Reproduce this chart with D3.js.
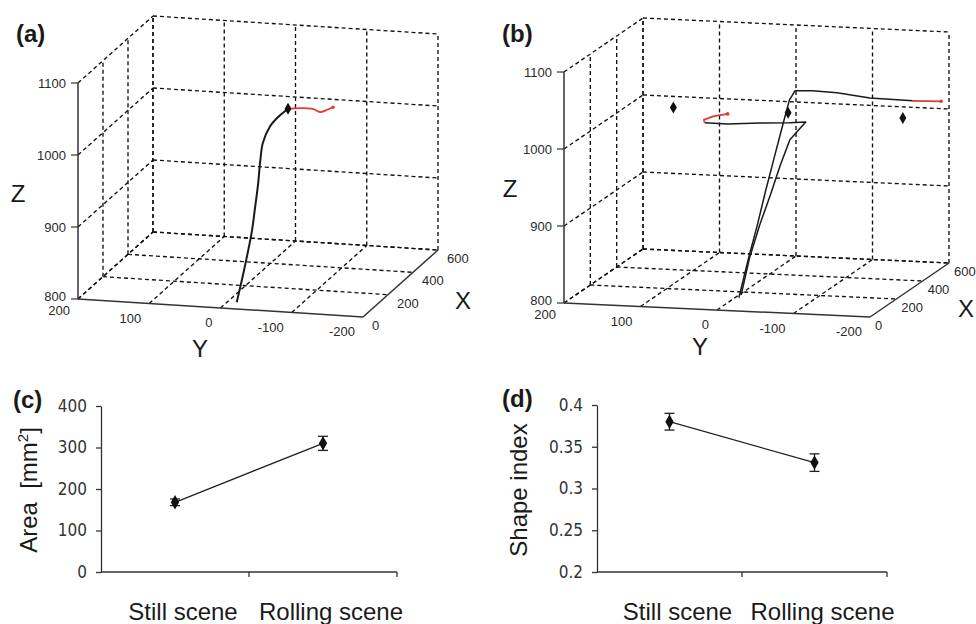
<!DOCTYPE html>
<html>
<head>
<meta charset="utf-8">
<script src="https://cdn.jsdelivr.net/npm/d3@7"></script>
<style>
  body { margin: 0; background: #fff; }
  svg { display: block; font-family: "Liberation Sans", Arial, sans-serif; }
</style>
</head>
<body>
<svg id="chart" width="976" height="624"></svg>
<script>
// ---- 3D panels: axis ticks ----
const xTicks3d = [0, 200, 400, 600];
const yTicks3d = [200, 100, 0, -100, -200];
const zTicks3d = [800, 900, 1000, 1100];

// (a) still scene: reach trajectory (black), tracking part (red), target
const aReachX = [50, 100, 150, 200, 260, 330, 390, 440, 490, 525, 540];
const aReachY = [-14, -17, -18, -13, -7, 2, 9, 8, 5, -1, 0];
const aReachZ = [801, 845, 886, 906, 931, 954, 968, 983, 989, 994, 993];
const aTrackX = [540, 540, 540, 540, 540, 540];
const aTrackY = [0, -17, -35, -45, -55, -63];
const aTrackZ = [993, 995, 995, 991, 995, 999];
const aTargetX = [540];
const aTargetY = [0];
const aTargetZ = [993];

// (b) rolling scene: two reaches, each with a tracking part
const bReach1X = [50, 120, 190, 260, 330, 400, 480, 540, 540, 540, 540, 540];
const bReach1Y = [-20, -20, -20, -19, -19, -17, -12, -9, -32, -64, -107, -163];
const bReach1Z = [811, 852, 889, 926, 964, 994, 1017, 1022, 1023, 1022, 1017, 1016];
const bTrack1X = [540, 540];
const bTrack1Y = [-163, -200];
const bTrack1Z = [1016, 1017];
const bReach2X = [50, 120, 190, 260, 330, 420, 540, 540, 540, 540, 540];
const bReach2Y = [-23, -22, -23, -25, -26, -23, -23, -2, 37, 79, 109];
const bReach2Z = [815, 855, 889, 920, 951, 973, 982, 980, 978, 975, 975];
const bTrack2X = [540, 540, 540, 540, 540, 540];
const bTrack2Y = [109, 110, 105, 98, 89, 79];
const bTrack2Z = [975, 979, 981, 984, 986, 988];
const bTargetX = [540, 540, 540];
const bTargetY = [150, 0, -150];
const bTargetZ = [993, 993, 993];

// ---- 2D panels ----
const scenes = ["Still scene", "Rolling scene"];
const areaMean = [168, 310];
const areaErr = [8, 17];
const shapeMean = [0.38, 0.331];
const shapeErr = [0.01, 0.0105];
const areaTicks = [0, 100, 200, 300, 400];
const shapeTicks = [0.2, 0.25, 0.3, 0.35, 0.4];

const RED = "#e23a36";
const INK = "#1a1a1a";
const svg = d3.select("#chart");

const zip3 = (X, Y, Z) => X.map((x, i) => [x, Y[i], Z[i]]);

function makeProjection(cfg) {
  const fx = d3.scaleLinear().domain([0, 600]).range([0, 1]);
  const fy = d3.scaleLinear().domain([200, -200]).range([0, 1]);
  const fz = d3.scaleLinear().domain([800, 1100]).range([0, 1]);
  return ([x, y, z]) => [
    cfg.o[0] + fy(y) * cfg.yv[0] + fx(x) * cfg.xv[0] + fz(z) * cfg.zv[0],
    cfg.o[1] + fy(y) * cfg.yv[1] + fx(x) * cfg.xv[1] + fz(z) * cfg.zv[1]
  ];
}

function draw3D(cfg, reaches, tracks, targets) {
  const g = svg.append("g");
  const P = makeProjection(cfg);
  const seg = (a, b) => {
    const p = P(a), q = P(b);
    return `M${p[0]},${p[1]}L${q[0]},${q[1]}`;
  };

  // dashed grid on back wall, left wall and floor
  const dashed = [];
  yTicks3d.forEach(y => dashed.push([[600, y, 800], [600, y, 1100]]));
  zTicks3d.forEach(z => dashed.push([[600, 200, z], [600, -200, z]]));
  xTicks3d.filter(x => x > 0).forEach(x => dashed.push([[x, 200, 800], [x, 200, 1100]]));
  zTicks3d.forEach(z => dashed.push([[0, 200, z], [600, 200, z]]));
  yTicks3d.filter(y => y > -200).forEach(y => dashed.push([[0, y, 800], [600, y, 800]]));
  xTicks3d.filter(x => x > 0).forEach(x => dashed.push([[x, 200, 800], [x, -200, 800]]));

  g.selectAll(".grid").data(dashed).join("path")
    .attr("class", "grid")
    .attr("d", d => seg(d[0], d[1]))
    .attr("fill", "none")
    .attr("stroke", "#111")
    .attr("stroke-width", 1.35)
    .attr("stroke-dasharray", "4,3");

  // solid axes
  const axes = [
    [[0, 200, 800], [0, 200, 1100]],
    [[0, 200, 800], [0, -200, 800]],
    [[0, -200, 800], [600, -200, 800]]
  ];
  g.selectAll(".ax").data(axes).join("path")
    .attr("class", "ax")
    .attr("d", d => seg(d[0], d[1]))
    .attr("stroke", "#333")
    .attr("stroke-width", 1.5);

  // tick marks
  g.selectAll(".zt").data(zTicks3d).join("line")
    .attr("class", "zt")
    .attr("x1", d => P([0, 200, d])[0] - 7).attr("x2", d => P([0, 200, d])[0])
    .attr("y1", d => P([0, 200, d])[1]).attr("y2", d => P([0, 200, d])[1])
    .attr("stroke", "#333").attr("stroke-width", 1.2);

  // tick labels
  const tl = g.append("g").attr("font-size", 13).attr("fill", "#2a2a2a");
  tl.selectAll(".zl").data(zTicks3d).join("text")
    .attr("x", d => P([0, 200, d])[0] - 12)
    .attr("y", d => P([0, 200, d])[1] + (d === 800 ? 2 : 5))
    .attr("text-anchor", "end")
    .text(d => d);
  tl.selectAll(".yl").data(yTicks3d).join("text")
    .attr("x", d => P([0, d, 800])[0] - 8)
    .attr("y", d => P([0, d, 800])[1] + (d === 200 ? 16 : 19))
    .attr("text-anchor", "end")
    .text(d => d);
  tl.selectAll(".xl").data(xTicks3d).join("text")
    .attr("x", d => P([d, -200, 800])[0] + cfg.xdx)
    .attr("y", d => P([d, -200, 800])[1] + 13)
    .text(d => d);

  // axis titles and panel letter
  const tt = g.append("g").attr("font-size", 24).attr("fill", INK).attr("text-anchor", "middle");
  tt.append("text").attr("x", cfg.zLab[0]).attr("y", cfg.zLab[1]).text("Z");
  tt.append("text").attr("x", cfg.yLab[0]).attr("y", cfg.yLab[1]).text("Y");
  tt.append("text").attr("x", cfg.xLab[0]).attr("y", cfg.xLab[1]).text("X");
  g.append("text").attr("x", cfg.letter[0]).attr("y", cfg.letter[1])
    .attr("font-size", 24).attr("font-weight", "bold").attr("fill", INK)
    .text(cfg.name);

  const line = d3.line().x(d => P(d)[0]).y(d => P(d)[1]).curve(cfg.curve);

  g.selectAll(".reach").data(reaches).join("path")
    .attr("class", "reach")
    .attr("d", line)
    .attr("fill", "none")
    .attr("stroke", INK)
    .attr("stroke-width", cfg.lw)
    .attr("stroke-linejoin", "round");

  g.selectAll(".track").data(tracks).join("path")
    .attr("class", "track")
    .attr("d", line)
    .attr("fill", "none")
    .attr("stroke", RED)
    .attr("stroke-width", 1.8)
    .attr("stroke-linejoin", "round");

  g.selectAll(".trackEnd").data(tracks).join("circle")
    .attr("class", "trackEnd")
    .attr("cx", d => P(d[d.length - 1])[0])
    .attr("cy", d => P(d[d.length - 1])[1])
    .attr("r", 1.8)
    .attr("fill", RED);

  g.selectAll(".target").data(targets).join("path")
    .attr("class", "target")
    .attr("transform", d => `translate(${P(d)[0]},${P(d)[1]})`)
    .attr("d", d3.symbol(d3.symbolDiamond).size(42))
    .attr("fill", "#111");
}

draw3D(
  { o: [78, 299], yv: [285, 18], xv: [75, -67], zv: [0, -216], xdx: 9,
    zLab: [18, 202], yLab: [200, 357], xLab: [463, 309], letter: [16, 42], name: "(a)",
    lw: 2, curve: d3.curveCatmullRom },
  [zip3(aReachX, aReachY, aReachZ)],
  [zip3(aTrackX, aTrackY, aTrackZ)],
  zip3(aTargetX, aTargetY, aTargetZ)
);

draw3D(
  { o: [564, 303], yv: [306, 14], xv: [79, -54], zv: [0, -231], xdx: 5,
    zLab: [510, 197], yLab: [700, 355], xLab: [966, 317], letter: [502, 42], name: "(b)",
    lw: 1.5, curve: d3.curveLinear },
  [zip3(bReach1X, bReach1Y, bReach1Z), zip3(bReach2X, bReach2Y, bReach2Z)],
  [zip3(bTrack1X, bTrack1Y, bTrack1Z), zip3(bTrack2X, bTrack2Y, bTrack2Z)],
  zip3(bTargetX, bTargetY, bTargetZ)
);

// ---- 2D mean +/- error panels ----
function draw2D(cfg, means, errs, ticks) {
  const g = svg.append("g");
  const x = d3.scaleBand().domain(scenes).range([cfg.x0, cfg.x1]);
  const y = d3.scaleLinear().domain(cfg.domain).range([cfg.yBot, cfg.yTop]);

  const yAxis = g.append("g")
    .attr("transform", `translate(${cfg.x0},0)`)
    .call(d3.axisLeft(y).tickValues(ticks).tickSize(5).tickSizeOuter(0).tickFormat(d => d));
  yAxis.select(".domain").attr("stroke", "#333").attr("stroke-width", 1.3);
  yAxis.selectAll(".tick line").attr("stroke", "#333").attr("stroke-width", 1.3);
  yAxis.selectAll(".tick text")
    .attr("font-family", "'Liberation Sans Narrow', 'DejaVu Sans Condensed', sans-serif")
    .attr("font-size", 17).attr("fill", "#333").attr("x", -14);

  // x axis with ticks at band boundaries
  g.append("line")
    .attr("x1", cfg.x0).attr("x2", cfg.x1)
    .attr("y1", cfg.yBot).attr("y2", cfg.yBot)
    .attr("stroke", "#333").attr("stroke-width", 1.3);
  const bounds = scenes.map(s => x(s) + x.bandwidth());
  g.selectAll(".xt").data(bounds).join("line")
    .attr("class", "xt")
    .attr("x1", d => d).attr("x2", d => d)
    .attr("y1", cfg.yBot).attr("y2", cfg.yBot + 5)
    .attr("stroke", "#333").attr("stroke-width", 1.3);

  g.selectAll(".cat").data(scenes).join("text")
    .attr("class", "cat")
    .attr("x", d => x(d) + x.bandwidth() / 2 + 8)
    .attr("y", 620)
    .attr("text-anchor", "middle")
    .attr("font-size", 24)
    .attr("fill", INK)
    .text(d => d);

  const cx = d => x(d) + x.bandwidth() / 2;
  const pts = scenes.map((s, i) => ({ s, m: means[i], e: errs[i] }));

  g.append("path")
    .datum(pts)
    .attr("d", d3.line().x(d => cx(d.s)).y(d => y(d.m)))
    .attr("fill", "none").attr("stroke", "#222").attr("stroke-width", 1.3);

  const eb = g.selectAll(".eb").data(pts).join("g").attr("class", "eb")
    .attr("stroke", "#222").attr("stroke-width", 1.3);
  eb.append("line")
    .attr("x1", d => cx(d.s)).attr("x2", d => cx(d.s))
    .attr("y1", d => y(d.m - d.e)).attr("y2", d => y(d.m + d.e));
  eb.append("line")
    .attr("x1", d => cx(d.s) - 5).attr("x2", d => cx(d.s) + 5)
    .attr("y1", d => y(d.m - d.e)).attr("y2", d => y(d.m - d.e));
  eb.append("line")
    .attr("x1", d => cx(d.s) - 5).attr("x2", d => cx(d.s) + 5)
    .attr("y1", d => y(d.m + d.e)).attr("y2", d => y(d.m + d.e));

  g.selectAll(".pt").data(pts).join("path")
    .attr("class", "pt")
    .attr("transform", d => `translate(${cx(d.s)},${y(d.m)})`)
    .attr("d", d3.symbol(d3.symbolDiamond).size(60))
    .attr("fill", "#111");

  // y title (rotated)
  const yt = g.append("text")
    .attr("transform", `translate(${cfg.yTitle[0]},${cfg.yTitle[1]}) rotate(-90)`)
    .attr("text-anchor", "middle")
    .attr("font-size", 24)
    .attr("fill", INK);
  cfg.title(yt);

  g.append("text").attr("x", cfg.letter[0]).attr("y", cfg.letter[1])
    .attr("font-size", 24).attr("font-weight", "bold").attr("fill", INK)
    .text(cfg.name);
}

draw2D(
  { x0: 101, x1: 397, yTop: 406, yBot: 572, domain: [0, 400],
    yTitle: [37, 490], letter: [13, 408], name: "(c)",
    title: t => {
      t.append("tspan").text("Area\u00a0\u00a0[mm");
      t.append("tspan").attr("font-size", 15).attr("dy", -9).text("2");
      t.append("tspan").attr("dy", 9).text("]");
    } },
  areaMean, areaErr, areaTicks
);

draw2D(
  { x0: 597, x1: 887, yTop: 405, yBot: 572, domain: [0.2, 0.4],
    yTitle: [527, 490], letter: [502, 407], name: "(d)",
    title: t => t.text("Shape index") },
  shapeMean, shapeErr, shapeTicks
);
</script>
</body>
</html>
